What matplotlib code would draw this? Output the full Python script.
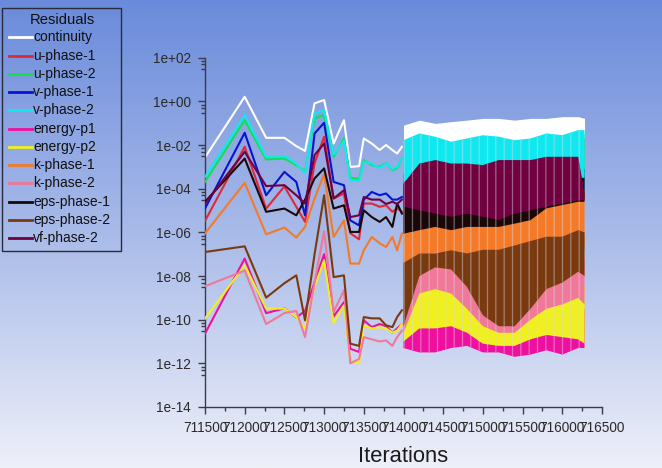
import numpy as np
import matplotlib
matplotlib.use('Agg')
import matplotlib.pyplot as plt
from matplotlib.lines import Line2D
from matplotlib.patches import Rectangle
from matplotlib.colors import LinearSegmentedColormap, to_rgb
import matplotlib.ticker as mticker

W, H, DPI = 662, 468, 100
FONT = 'Liberation Sans'
plt.rcParams['hatch.linewidth'] = 0.9

# ---------------- data ----------------
series_names = ['continuity', 'u-phase-1', 'u-phase-2', 'v-phase-1', 'v-phase-2',
                'energy-p1', 'energy-p2', 'k-phase-1', 'k-phase-2',
                'eps-phase-1', 'eps-phase-2', 'vf-phase-2']
series_colors = ['#ffffff', '#e0283c', '#10e050', '#0a14d0', '#10e8f0',
                 '#f010a0', '#f0f020', '#f57a28', '#f07898',
                 '#1a0808', '#7a3a10', '#700040']

# sparse early history (log10 of residual)
iters_early = [711500, 712000, 712270, 712500, 712650, 712760, 712880, 713000, 713120,
               713250, 713330, 713440, 713500, 713600, 713700, 713780, 713860, 713920, 713980]
continuity_log = [-2.57, 0.21, -1.67, -1.67, -2.05, -2.27, -0.09, 0.06, -1.93,
                  -0.86, -3.0, -2.97, -1.70, -1.93, -2.23, -2.0, -2.23, -2.39, -2.08]
u_phase_1_log = [-5.48, -2.08, -4.91, -3.9, -4.83, -5.52, -2.84, -1.62, -4.45,
                 -4.22, -6.04, -6.32, -4.68, -4.68, -4.83, -4.76, -5.06, -4.9, -5.06]
u_phase_2_log = [-3.69, -0.86, -2.66, -2.62, -2.92, -3.23, -0.78, -0.63, -2.54,
                 -1.7, -3.5, -3.55, -2.69, -2.92, -3.0, -2.83, -3.15, -3.06, -2.6]
v_phase_1_log = [-4.91, -1.44, -4.3, -3.23, -3.69, -5.22, -1.47, -0.98, -3.69,
                 -3.84, -5.45, -5.68, -4.5, -4.15, -4.3, -4.22, -4.5, -4.5, -4.38]
v_phase_2_log = [-3.46, -0.63, -2.55, -2.5, -2.85, -3.3, -0.55, -0.4, -2.45,
                 -1.8, -3.62, -3.65, -2.75, -2.85, -3.05, -2.85, -3.1, -3.0, -2.6]
energy_p1_log = [-10.64, -7.2, -9.7, -9.48, -9.9, -9.6, -8.3, -7.0, -9.85,
                 -9.2, -11.33, -11.48, -10.03, -10.34, -10.2, -10.3, -10.6, -10.4, -10.2]
energy_p2_log = [-9.95, -7.51, -9.49, -9.49, -9.88, -10.4, -8.5, -7.28, -10.16,
                 -9.34, -11.9, -12.0, -10.26, -10.4, -10.35, -10.4, -10.6, -10.5, -10.2]
k_phase_1_log = [-6.05, -3.73, -6.09, -5.78, -6.24, -5.75, -4.45, -3.34, -6.21,
                 -5.45, -7.43, -7.43, -6.82, -6.21, -6.5, -6.67, -6.21, -6.82, -6.05]
k_phase_2_log = [-8.47, -7.75, -10.2, -9.7, -9.6, -10.8, -8.3, -5.95, -9.65,
                 -8.65, -12.0, -11.8, -10.8, -10.9, -11.0, -10.95, -11.2, -10.8, -10.5]
eps_phase_1_log = [-4.6, -2.62, -5.06, -4.91, -5.22, -4.5, -3.53, -3.07, -4.91,
                   -4.76, -5.98, -5.98, -4.99, -5.3, -5.52, -5.3, -5.75, -4.68, -5.14]
eps_phase_2_log = [-6.9, -6.64, -8.99, -8.33, -7.97, -10.03, -7.0, -4.3, -8.05,
                   -7.97, -11.1, -11.2, -9.88, -9.94, -9.94, -10.26, -10.34, -9.88, -9.57]
vf_phase_2_log = [-4.68, -2.31, -3.88, -3.84, -4.3, -4.68, -2.46, -1.93, -4.45,
                  -4.07, -5.3, -5.22, -4.38, -4.5, -4.5, -4.7, -4.6, -4.7, -4.5]

# dense oscillating history: envelope (log10) of each residual
dense_iters = [714000, 714200, 714400, 714600, 714800, 715000, 715200,
               715400, 715600, 715800, 716000, 716200, 716280]
continuity_hi = [-1.09, -0.86, -1.01, -0.93, -0.86, -0.78, -0.78, -0.86, -0.78, -0.78, -0.7, -0.7, -0.78]
continuity_lo = [-2.2, -1.9, -1.9, -2.0, -1.9, -1.9, -1.9, -1.9, -1.9, -1.8, -1.8, -1.7, -1.7]
u_phase_1_hi = [-3.6, -3.5, -3.5, -3.5, -3.5, -3.5, -3.5, -3.5, -3.5, -3.4, -3.4, -3.4, -3.4]
u_phase_1_lo = [-4.8, -4.7, -4.7, -4.8, -4.8, -4.8, -4.8, -4.8, -4.7, -4.6, -4.5, -4.4, -4.4]
u_phase_2_hi = [-2.0, -1.7, -1.8, -2.0, -1.9, -1.8, -1.8, -1.9, -1.9, -1.7, -1.7, -1.5, -1.5]
u_phase_2_lo = [-3.9, -3.0, -2.9, -3.0, -3.0, -3.0, -2.9, -2.9, -2.9, -2.7, -2.7, -2.7, -4.3]
v_phase_1_hi = [-3.3, -3.2, -3.2, -3.2, -3.2, -3.2, -3.2, -3.2, -3.2, -3.1, -3.1, -3.1, -3.1]
v_phase_1_lo = [-4.5, -4.4, -4.4, -4.5, -4.5, -4.5, -4.5, -4.5, -4.4, -4.3, -4.2, -4.1, -4.1]
v_phase_2_hi = [-1.78, -1.47, -1.62, -1.85, -1.7, -1.55, -1.62, -1.78, -1.7, -1.47, -1.55, -1.32, -1.32]
v_phase_2_lo = [-3.9, -3.0, -2.9, -3.0, -3.0, -3.1, -2.9, -2.9, -2.9, -2.7, -2.7, -2.7, -4.3]
energy_p1_hi = [-9.5, -9.5, -9.5, -9.5, -9.5, -9.8, -9.8, -9.8, -9.5, -9.3, -9.3, -9.3, -9.5]
energy_p1_lo = [-11.3, -11.5, -11.5, -11.3, -11.2, -11.5, -11.5, -11.7, -11.6, -11.4, -11.6, -11.3, -11.3]
energy_p2_hi = [-8.8, -8.5, -8.5, -8.5, -8.8, -9.2, -9.4, -9.4, -9.0, -8.6, -8.4, -8.2, -8.4]
energy_p2_lo = [-11.0, -10.4, -10.4, -10.3, -10.6, -11.1, -11.2, -11.2, -10.9, -10.7, -10.8, -10.9, -11.1]
k_phase_1_hi = [-4.5, -4.5, -4.6, -4.7, -4.6, -4.7, -4.8, -4.6, -4.4, -4.2, -4.1, -4.0, -4.0]
k_phase_1_lo = [-8.2, -7.8, -7.8, -7.6, -7.8, -7.6, -7.6, -7.4, -7.2, -7.0, -7.0, -6.7, -6.8]
k_phase_2_hi = [-9.4, -7.2, -6.9, -7.0, -7.7, -9.0, -9.5, -9.5, -8.7, -7.8, -7.5, -7.0, -7.2]
k_phase_2_lo = [-10.6, -8.8, -8.6, -8.8, -9.5, -10.3, -10.6, -10.6, -10.0, -9.5, -9.3, -9.0, -9.3]
eps_phase_1_hi = [-3.8, -3.7, -3.7, -3.8, -3.8, -3.8, -3.8, -3.8, -3.7, -3.6, -3.6, -3.5, -3.5]
eps_phase_1_lo = [-6.06, -5.9, -5.75, -5.9, -5.75, -5.75, -5.75, -5.6, -5.44, -4.9, -4.75, -4.6, -4.6]
eps_phase_2_hi = [-7.4, -6.97, -6.97, -6.82, -6.97, -6.8, -6.8, -6.6, -6.4, -6.2, -6.2, -5.9, -6.0]
eps_phase_2_lo = [-10.3, -8.0, -7.6, -7.7, -8.5, -9.8, -10.3, -10.3, -9.5, -8.6, -8.3, -7.8, -8.0]
vf_phase_2_hi = [-3.76, -2.85, -2.69, -2.85, -2.85, -2.92, -2.69, -2.69, -2.69, -2.54, -2.54, -2.54, -4.2]
vf_phase_2_lo = [-4.83, -4.99, -5.14, -5.29, -5.14, -5.29, -5.44, -5.14, -4.99, -4.83, -4.68, -4.53, -4.53]

early_logs = [continuity_log, u_phase_1_log, u_phase_2_log, v_phase_1_log, v_phase_2_log,
              energy_p1_log, energy_p2_log, k_phase_1_log, k_phase_2_log,
              eps_phase_1_log, eps_phase_2_log, vf_phase_2_log]
dense_hi = [continuity_hi, u_phase_1_hi, u_phase_2_hi, v_phase_1_hi, v_phase_2_hi,
            energy_p1_hi, energy_p2_hi, k_phase_1_hi, k_phase_2_hi,
            eps_phase_1_hi, eps_phase_2_hi, vf_phase_2_hi]
dense_lo = [continuity_lo, u_phase_1_lo, u_phase_2_lo, v_phase_1_lo, v_phase_2_lo,
            energy_p1_lo, energy_p2_lo, k_phase_1_lo, k_phase_2_lo,
            eps_phase_1_lo, eps_phase_2_lo, vf_phase_2_lo]

x_ticks = list(range(711500, 716501, 500))
y_exponents = list(range(-14, 3, 2))


def streak_colour(c):
    r, g, b = to_rgb(c)
    return (r + (0.85 - r) * 0.45, g + (0.85 - g) * 0.45, b + (0.9 - b) * 0.45)


# ---------------- figure ----------------
fig = plt.figure(figsize=(W / DPI, H / DPI), dpi=DPI)

bg = fig.add_axes([0, 0, 1, 1], zorder=-10)
grad = np.linspace(0, 1, 256).reshape(-1, 1)
cmap = LinearSegmentedColormap.from_list('bg', ['#6a8bdb', '#a9bbe9', '#eef0f9'])
bg.imshow(grad, aspect='auto', cmap=cmap, extent=[0, 1, 0, 1], origin='upper')
bg.axis('off')

L, R, T, B = 205, 602, 57.7, 407
ax = fig.add_axes([L / W, 1 - B / H, (R - L) / W, (B - T) / H])
ax.patch.set_alpha(0)

for i, (name, col) in enumerate(zip(series_names, series_colors)):
    z = 2 + i
    hatch = '||' if i != 0 else None
    ax.fill_between(dense_iters, 10.0 ** np.array(dense_lo[i]), 10.0 ** np.array(dense_hi[i]),
                    facecolor=col, edgecolor=streak_colour(col), hatch=hatch,
                    lw=0, zorder=z)
    ax.plot(iters_early, 10.0 ** np.array(early_logs[i]), color=col, lw=1.5, zorder=z)

ax.set_yscale('log')
ax.set_ylim(1e-14, 1e2)
ax.set_xlim(711500, 716500)

ax.yaxis.set_major_locator(mticker.FixedLocator([10.0 ** k for k in y_exponents]))
ax.yaxis.set_major_formatter(mticker.FixedFormatter(['1e%+03d' % k for k in y_exponents]))
minors = [10.0 ** k * m for k in y_exponents[1:] for m in (0.7, 0.5, 0.3)]
ax.yaxis.set_minor_locator(mticker.FixedLocator(minors))
ax.yaxis.set_minor_formatter(mticker.NullFormatter())

ax.set_xticks(x_ticks)
ax.set_xticklabels([str(v) for v in x_ticks])
ax.set_xticks([v + 250 for v in x_ticks[:-1]], minor=True)

for s in ('top', 'right'):
    ax.spines[s].set_visible(False)
for s in ('left', 'bottom'):
    ax.spines[s].set_color('#3a3a48')
    ax.spines[s].set_linewidth(1.0)

ax.tick_params(which='major', length=5, width=1, color='#3a3a48', pad=5,
               labelsize=9.8, labelcolor='#2a2a2a')
ax.tick_params(which='minor', length=3, width=1, color='#3a3a48')
for lab in ax.get_xticklabels() + ax.get_yticklabels():
    lab.set_fontfamily(FONT)

fig.text(403 / W, 1 - 456 / H, 'Iterations', fontsize=15.8, family=FONT,
         color='#1a1a1a', ha='center', va='center')

# ---------------- legend ----------------
fig.patches.append(Rectangle((2 / W, 1 - 251 / H), 119 / W, 243 / H,
                             transform=fig.transFigure, fill=False,
                             ec='#2a2a3a', lw=1.0))
fig.text(62 / W, 1 - 20 / H, 'Residuals', fontsize=10.6, family=FONT,
         color='#101010', ha='center', va='center')
for i, (name, col) in enumerate(zip(series_names, series_colors)):
    yy = 1 - (37.3 + 18.27 * i) / H
    fig.lines.append(Line2D([9 / W, 32 / W], [yy, yy], transform=fig.transFigure,
                            color=col, lw=2))
    fig.text(33 / W, yy, name, fontsize=10, family=FONT, color='#101010',
             ha='left', va='center')

fig.savefig('out.png', dpi=DPI)
